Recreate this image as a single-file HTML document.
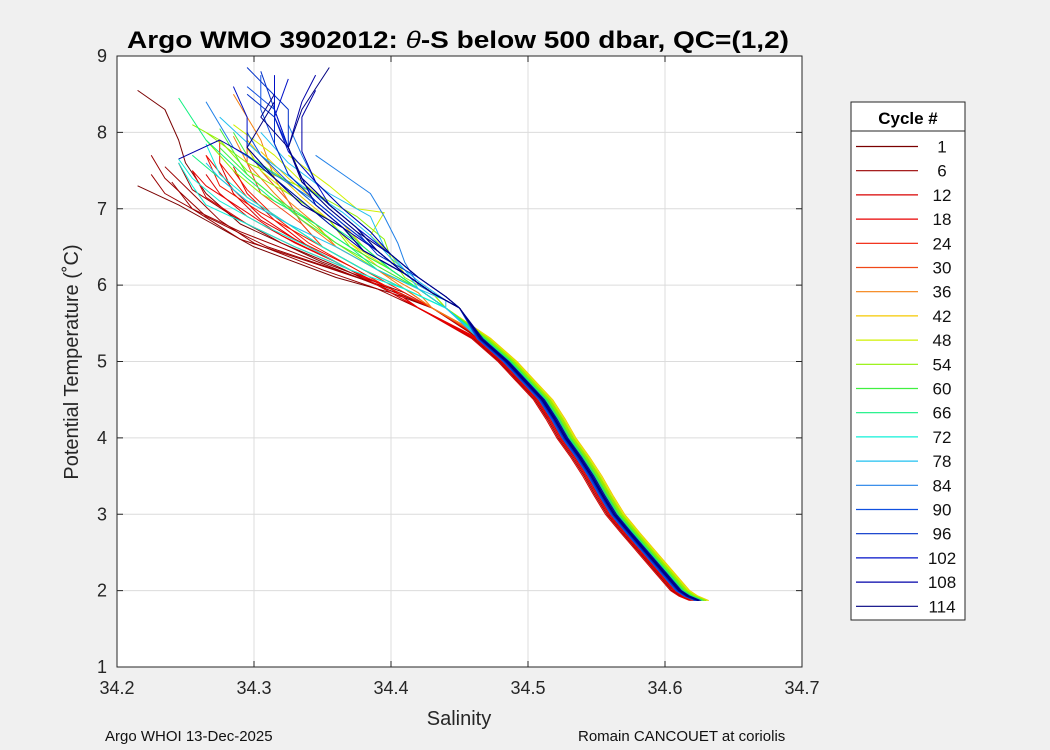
<!DOCTYPE html>
<html><head><meta charset="utf-8"><style>
body{margin:0;background:#f0f0f0;width:1050px;height:750px;overflow:hidden}
svg{display:block;font-family:"Liberation Sans","DejaVu Sans",sans-serif}
</style></head><body>
<svg id="chart" width="1050" height="750" viewBox="0 0 1050 750">
<rect x="0" y="0" width="1050" height="750" fill="#f0f0f0"/>
<rect x="117" y="56" width="685" height="611" fill="#fff"/>
<g id="grid"></g>
<g id="lines"></g>
<rect x="117" y="56" width="685" height="611" fill="none" stroke="#262626" stroke-width="1"/>
<g id="ticks"></g>
<text x="458" y="48" text-anchor="middle" font-size="24" font-weight="bold" textLength="662" lengthAdjust="spacingAndGlyphs">Argo WMO 3902012: <tspan font-style="italic" font-weight="normal">θ</tspan>-S below 500 dbar,  QC=(1,2)</text>
<text x="459" y="725" text-anchor="middle" font-size="20" fill="#262626">Salinity</text>
<text transform="translate(78,362) rotate(-90)" text-anchor="middle" font-size="20" fill="#262626">Potential Temperature (˚C)</text>
<text x="105" y="741" font-size="15" fill="#111">Argo WHOI 13-Dec-2025</text>
<text x="578" y="741" font-size="15" fill="#111">Romain CANCOUET at coriolis</text>
<g id="legend"></g>
</svg>
<script>
const xTicks=[34.2,34.3,34.4,34.5,34.6,34.7];
const yTicks=[1,2,3,4,5,6,7,8,9];
const legendCycles=[1,6,12,18,24,30,36,42,48,54,60,66,72,78,84,90,96,102,108,114];
const legendColors=['#7a0000','#9a0000','#d80000','#e80000','#f01800','#f04818','#f58010','#f5c800','#d0f000','#90f000','#40f040','#10f080','#10f0d8','#20c0f0','#2080e8','#1050e0','#0030c8','#0010c8','#0000a8','#000080'];
const trunkS=[34.625,34.617,34.611,34.599,34.587,34.575,34.5635,34.555,34.547,34.538,34.528,34.52,34.511,34.498,34.485,34.466];
const trunkT=[1.87,1.93,2,2.25,2.5,2.75,3,3.25,3.5,3.75,4,4.25,4.5,4.75,5,5.3];
const profCycle=[1,2,3,4,5,6,8,10,12,14,16,18,20,22,24,26,28,30,33,36,39,42,45,48,50,52,54,56,58,60,62,64,66,68,70,72,74,76,78,80,82,84,86,88,90,92,94,96,98,100,102,104,106,108,110,112,114,115];
const profOffset=[0.004,-0.001,0.002,0.005,-0.002,-0.004,-0.006,-0.005,-0.007,-0.005,-0.004,-0.003,-0.002,0.0,0.002,0.001,0.003,0.002,0.004,0.005,0.006,0.007,0.006,0.005,0.006,0.005,0.004,0.004,0.003,0.003,0.002,0.001,0.002,0.0,0.0,-0.001,-0.002,-0.001,-0.002,-0.003,-0.002,-0.003,-0.002,-0.003,-0.002,-0.003,-0.002,-0.001,-0.002,-0.001,0.0,-0.001,0.0,-0.001,0.001,0.0,-0.001,0.0];
const profUpperS=[
[34.43,34.4,34.36,34.3,34.27,34.245,34.215],
[34.43,34.41,34.35,34.29,34.265,34.25,34.245,34.235,34.215],
[34.43,34.4,34.36,34.31,34.265,34.235,34.225],
[34.43,34.4,34.35,34.29,34.255,34.24],
[34.43,34.39,34.34,34.29,34.255,34.235,34.225],
[34.42,34.39,34.35,34.3,34.275,34.255,34.235],
[34.42,34.39,34.36,34.32,34.285,34.255,34.245],
[34.42,34.4,34.37,34.33,34.295,34.265,34.255],
[34.42,34.39,34.36,34.33,34.295,34.275,34.265],
[34.42,34.4,34.37,34.34,34.305,34.285,34.275],
[34.42,34.4,34.37,34.33,34.305,34.285,34.265],
[34.42,34.39,34.36,34.32,34.295,34.265,34.255],
[34.42,34.4,34.37,34.34,34.315,34.295,34.285],
[34.43,34.4,34.37,34.34,34.305,34.275,34.265],
[34.43,34.41,34.38,34.35,34.325,34.295,34.275,34.275],
[34.43,34.4,34.37,34.34,34.315,34.295,34.285],
[34.43,34.41,34.38,34.35,34.335,34.305,34.295,34.295],
[34.43,34.41,34.38,34.35,34.335,34.325,34.305,34.295],
[34.43,34.41,34.39,34.36,34.335,34.315,34.295,34.285],
[34.43,34.42,34.39,34.36,34.345,34.325,34.315,34.305,34.285],
[34.44,34.42,34.39,34.37,34.355,34.335,34.315,34.295],
[34.44,34.42,34.4,34.38,34.365,34.345,34.325,34.305],
[34.44,34.42,34.4,34.37,34.355,34.325,34.305,34.295],
[34.44,34.43,34.41,34.4,34.385,34.395,34.375,34.355,34.325],
[34.44,34.43,34.41,34.39,34.375,34.355,34.335,34.315,34.285],
[34.44,34.43,34.41,34.4,34.395,34.375,34.345,34.295,34.265],
[34.44,34.42,34.4,34.37,34.355,34.325,34.295,34.275,34.255],
[34.44,34.42,34.39,34.36,34.335,34.305,34.285,34.265],
[34.44,34.42,34.4,34.38,34.365,34.345,34.325,34.295,34.285],
[34.44,34.42,34.4,34.37,34.345,34.315,34.295,34.275],
[34.44,34.42,34.39,34.36,34.335,34.315,34.295,34.285,34.275],
[34.44,34.42,34.4,34.38,34.355,34.335,34.315,34.295],
[34.44,34.42,34.39,34.37,34.345,34.315,34.295,34.265,34.245],
[34.44,34.41,34.38,34.35,34.325,34.295,34.275,34.255],
[34.44,34.41,34.38,34.35,34.325,34.295,34.275,34.265],
[34.44,34.41,34.37,34.34,34.305,34.275,34.255,34.245],
[34.44,34.41,34.37,34.33,34.295,34.265,34.255,34.245],
[34.44,34.42,34.39,34.36,34.325,34.295,34.275,34.265],
[34.44,34.44,34.42,34.4,34.385,34.365,34.335,34.305,34.275],
[34.45,34.44,34.42,34.41,34.395,34.385,34.355,34.325,34.305],
[34.45,34.43,34.41,34.39,34.365,34.345,34.315,34.285,34.265],
[34.45,34.44,34.42,34.41,34.405,34.395,34.385,34.365,34.345],
[34.45,34.44,34.42,34.4,34.385,34.365,34.345,34.335,34.325],
[34.45,34.43,34.41,34.38,34.365,34.345,34.325,34.305,34.295],
[34.45,34.43,34.41,34.39,34.375,34.355,34.335,34.325,34.315,34.295],
[34.45,34.43,34.41,34.39,34.365,34.345,34.325,34.315,34.305,34.305],
[34.45,34.43,34.41,34.38,34.365,34.345,34.335,34.325,34.315,34.295],
[34.45,34.44,34.42,34.39,34.375,34.355,34.335,34.325,34.325,34.295],
[34.45,34.43,34.41,34.39,34.365,34.345,34.325,34.315,34.315,34.305],
[34.45,34.43,34.41,34.38,34.365,34.335,34.315,34.295,34.295,34.285],
[34.45,34.44,34.42,34.4,34.375,34.355,34.335,34.325,34.315,34.315],
[34.45,34.43,34.41,34.39,34.375,34.355,34.345,34.325,34.315,34.325],
[34.45,34.44,34.42,34.4,34.385,34.365,34.345,34.335,34.335,34.345],
[34.45,34.43,34.41,34.38,34.355,34.335,34.315,34.295,34.275,34.245],
[34.45,34.43,34.41,34.39,34.365,34.345,34.335,34.325,34.335,34.345],
[34.45,34.44,34.42,34.4,34.375,34.355,34.335,34.325,34.305,34.315],
[34.45,34.43,34.41,34.38,34.365,34.335,34.315,34.295,34.305,34.315],
[34.45,34.43,34.41,34.39,34.375,34.355,34.335,34.325,34.335,34.355]];
const profUpperT=[
[5.7,5.9,6.1,6.5,6.8,7.05,7.3],
[5.7,5.9,6.3,6.8,7.2,7.6,7.9,8.3,8.55],
[5.7,5.95,6.2,6.5,6.9,7.4,7.7],
[5.7,5.95,6.25,6.6,7.0,7.35],
[5.7,6.0,6.35,6.7,7.0,7.2,7.45],
[5.7,5.95,6.2,6.55,6.85,7.2,7.55],
[5.7,6.0,6.25,6.55,6.9,7.25,7.6],
[5.7,5.95,6.2,6.5,6.8,7.15,7.5],
[5.7,6.0,6.3,6.55,6.9,7.2,7.45],
[5.7,5.95,6.2,6.5,6.85,7.2,7.6],
[5.7,5.95,6.25,6.6,6.9,7.25,7.7],
[5.7,6.0,6.3,6.65,6.95,7.3,7.5],
[5.7,5.95,6.2,6.5,6.85,7.2,7.55],
[5.7,6.0,6.3,6.6,6.95,7.3,7.7],
[5.7,5.95,6.2,6.5,6.8,7.15,7.6,7.9],
[5.7,5.95,6.25,6.55,6.9,7.25,7.5],
[5.7,5.95,6.2,6.5,6.8,7.2,7.6,8.0],
[5.7,5.95,6.2,6.5,6.8,7.1,7.5,7.8],
[5.7,5.95,6.2,6.5,6.85,7.2,7.6,7.95],
[5.7,5.9,6.2,6.5,6.8,7.1,7.4,7.9,8.5],
[5.7,5.95,6.25,6.55,6.85,7.15,7.5,7.9],
[5.7,5.95,6.2,6.5,6.8,7.1,7.4,7.75],
[5.7,5.95,6.2,6.55,6.85,7.2,7.5,7.8],
[5.7,5.9,6.15,6.4,6.65,6.95,7.0,7.3,7.7],
[5.7,5.9,6.15,6.45,6.75,7.05,7.35,7.7,8.1],
[5.7,5.9,6.1,6.35,6.6,6.9,7.2,7.6,8.0],
[5.7,5.95,6.2,6.5,6.85,7.2,7.5,7.9,8.1],
[5.7,5.95,6.2,6.55,6.9,7.2,7.5,7.9],
[5.7,5.95,6.2,6.5,6.75,7.05,7.35,7.7,8.0],
[5.7,5.95,6.2,6.5,6.8,7.15,7.45,7.8],
[5.7,5.95,6.25,6.55,6.85,7.15,7.45,7.75,8.05],
[5.7,5.95,6.2,6.5,6.8,7.1,7.4,7.7],
[5.7,5.95,6.2,6.5,6.8,7.1,7.4,7.9,8.45],
[5.7,5.95,6.2,6.5,6.8,7.1,7.4,7.7],
[5.7,5.95,6.2,6.5,6.8,7.15,7.45,7.85],
[5.7,5.95,6.2,6.5,6.8,7.1,7.4,7.65],
[5.7,5.95,6.2,6.5,6.8,7.05,7.3,7.6],
[5.7,5.95,6.2,6.5,6.8,7.1,7.4,7.6],
[5.7,5.8,6.05,6.35,6.65,6.95,7.3,7.7,8.2],
[5.7,5.8,5.95,6.2,6.5,6.9,7.2,7.6,8.0],
[5.7,5.9,6.15,6.45,6.8,7.1,7.45,7.8,8.4],
[5.7,5.8,6.0,6.3,6.55,6.9,7.2,7.45,7.7],
[5.7,5.85,6.1,6.4,6.7,7.0,7.35,7.7,8.1],
[5.7,5.9,6.15,6.45,6.75,7.05,7.35,7.7,8.0],
[5.7,5.9,6.15,6.45,6.75,7.05,7.4,7.8,8.3,8.6],
[5.7,5.9,6.15,6.45,6.8,7.1,7.45,7.85,8.3,8.75],
[5.7,5.9,6.15,6.45,6.75,7.05,7.4,7.8,8.2,8.5],
[5.7,5.85,6.1,6.4,6.7,7.0,7.35,7.8,8.3,8.85],
[5.7,5.9,6.15,6.45,6.8,7.1,7.45,7.85,8.3,8.8],
[5.7,5.9,6.15,6.45,6.75,7.05,7.4,7.8,8.2,8.6],
[5.7,5.85,6.1,6.4,6.75,7.05,7.4,7.8,8.3,8.75],
[5.7,5.9,6.15,6.45,6.75,7.05,7.35,7.75,8.2,8.7],
[5.7,5.85,6.1,6.4,6.7,7.0,7.35,7.75,8.2,8.55],
[5.7,5.9,6.15,6.45,6.8,7.1,7.4,7.7,7.9,7.65],
[5.7,5.9,6.15,6.45,6.75,7.05,7.4,7.8,8.4,8.75],
[5.7,5.85,6.1,6.4,6.7,7.0,7.35,7.8,8.2,8.5],
[5.7,5.9,6.15,6.45,6.75,7.05,7.4,7.8,8.1,8.4],
[5.7,5.9,6.15,6.45,6.75,7.05,7.4,7.8,8.3,8.85]];
const NS='http://www.w3.org/2000/svg';
const X0=117,X1=802,Y0=667,Y1=56;
function sx(s){return X0+(s-34.2)/0.5*(X1-X0);}
function ty(t){return Y0-(t-1)/8*(Y0-Y1);}
function colorFor(c){let k=0;for(let i=0;i<legendCycles.length;i++){if(c>=legendCycles[i]-3)k=i;}return legendColors[k];}
function mk(tag,attrs,parent){const e=document.createElementNS(NS,tag);for(const k in attrs)e.setAttribute(k,attrs[k]);parent.appendChild(e);return e;}
const grid=document.getElementById('grid'),ticks=document.getElementById('ticks');
xTicks.forEach(v=>{const x=sx(v);
 const gl=mk('line',{x1:x,x2:x,y1:Y1,y2:Y0,stroke:'#dcdcdc','stroke-width':1},grid);
 
 
 const tk=mk('line',{x1:x,x2:x,y1:Y0,y2:Y0-6,stroke:'#262626'},ticks);
 
 
 mk('line',{x1:x,x2:x,y1:Y1,y2:Y1+6,stroke:'#262626'},ticks);
 const t=mk('text',{x:x,y:Y0+27,'text-anchor':'middle','font-size':18,fill:'#262626'},ticks);t.textContent=v.toFixed(1);
 
 });
yTicks.forEach(v=>{const y=ty(v);
 const gl=mk('line',{x1:X0,x2:X1,y1:y,y2:y,stroke:'#dcdcdc','stroke-width':1},grid);
 
 
 const tk=mk('line',{x1:X0,x2:X0+6,y1:y,y2:y,stroke:'#262626'},ticks);
 
 
 mk('line',{x1:X1,x2:X1-6,y1:y,y2:y,stroke:'#262626'},ticks);
 const t=mk('text',{x:X0-10,y:y+6,'text-anchor':'end','font-size':18,fill:'#262626'},ticks);t.textContent=v;
 
 });
const lines=document.getElementById('lines');
profCycle.forEach((c,i)=>{
 const pts=[];
 trunkS.forEach((s,j)=>pts.push([sx(s+profOffset[i]),ty(trunkT[j])]));
 profUpperS[i].forEach((s,j)=>pts.push([sx(s),ty(profUpperT[i][j])]));
 const p=mk('polyline',{points:pts.map(q=>q[0].toFixed(1)+','+q[1].toFixed(1)).join(' '),fill:'none',stroke:colorFor(c),'stroke-width':1,'stroke-linejoin':'round'},lines);
 
 
});
const lg=document.getElementById('legend');
const box=mk('rect',{x:851,y:102,width:114,height:518,fill:'#fff',stroke:'#262626'},lg);


mk('line',{x1:851,x2:965,y1:131,y2:131,stroke:'#262626'},lg);
const ht=mk('text',{x:908,y:124,'text-anchor':'middle','font-size':17,'font-weight':'bold'},lg);ht.textContent='Cycle #';


legendCycles.forEach((c,i)=>{const y=146.5+i*24.2;
 const g=mk('g',{},lg);
 
 
 mk('line',{x1:856,x2:918,y1:y,y2:y,stroke:legendColors[i],'stroke-width':1.2},g);
 const t=mk('text',{x:942,y:y+6,'text-anchor':'middle','font-size':17,fill:'#111'},g);t.textContent=c;});
</script>
</body></html>
